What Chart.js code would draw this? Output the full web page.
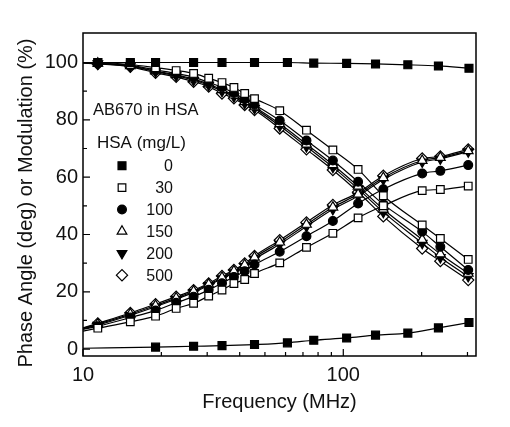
<!DOCTYPE html>
<html>
<head>
<meta charset="utf-8">
<script src="https://cdn.jsdelivr.net/npm/chart.js@4.4.1/dist/chart.umd.min.js"></script>
<style>
html, body { margin: 0; padding: 0; background: #fff; }
</style>
</head>
<body>
<canvas id="chart" width="510" height="427"></canvas>
<script>
// frequencies (MHz)
var freqHSA = [11.4, 15.2, 19, 22.8, 26.6, 30.4, 34.2, 38, 41.8, 45.6, 57, 72.2, 91.2, 114, 142.5, 201, 236, 302];
var freqZero = [11.4, 15.2, 19, 26.6, 34.2, 45.6, 61, 77, 103, 133, 177, 232, 304];
var freqZeroPhase = [19, 26.6, 34.2, 45.6, 61, 77, 103, 133, 177, 232, 304];

// HSA 0 mg/L
var mod0 = [100, 100, 100, 100, 100, 100, 100, 99.8, 99.7, 99.5, 99.2, 98.8, 98.0];
var phase0 = [0.7, 1.0, 1.2, 1.6, 2.2, 3.1, 3.9, 4.9, 5.6, 7.4, 9.3];

// phase angle (deg)
var phase30 = [7.3, 9.5, 11.5, 14.2, 16.0, 18.5, 20.6, 22.9, 24.3, 26.4, 30.1, 35.5, 40.4, 45.8, 50.0, 55.3, 55.7, 56.9];
var phase100 = [8.0, 11.0, 13.5, 16.2, 18.3, 20.7, 23.0, 25.2, 27.2, 29.5, 34.0, 39.4, 44.7, 50.8, 55.8, 61.3, 62.2, 64.2];
var phase150 = [8.7, 12.2, 15.2, 17.8, 20.2, 22.6, 25.0, 27.2, 29.4, 32.0, 37.3, 43.5, 49.5, 54.0, 59.8, 65.8, 66.8, 69.2];
var phase200 = [8.4, 11.8, 14.8, 17.4, 19.8, 22.2, 24.6, 26.7, 28.9, 31.4, 36.6, 42.8, 48.8, 53.4, 59.2, 65.3, 66.4, 68.9];
var phase500 = [9.0, 12.6, 15.7, 18.3, 20.6, 22.9, 25.5, 27.6, 29.9, 32.5, 38.0, 44.2, 50.3, 54.6, 60.5, 66.5, 67.2, 69.7];

// modulation (%)
var mod30 = [100, 99.3, 98.2, 97.2, 96.2, 94.5, 93.0, 91.3, 89.2, 87.4, 83.2, 76.4, 69.5, 62.7, 53.5, 43.3, 38.6, 31.3];
var mod100 = [99.8, 99.0, 97.4, 96.2, 94.9, 93.1, 91.3, 89.4, 87.2, 85.3, 79.8, 72.8, 65.8, 58.4, 50.5, 41.0, 35.7, 27.6];
var mod150 = [99.7, 98.8, 97.0, 95.7, 94.2, 92.5, 90.5, 88.6, 86.3, 84.5, 78.6, 71.5, 64.3, 56.8, 48.8, 38.2, 33.2, 26.4];
var mod200 = [99.6, 98.7, 96.8, 95.4, 93.8, 92.1, 90.0, 88.1, 85.8, 84.0, 77.9, 70.7, 63.5, 55.9, 47.8, 37.0, 32.0, 25.4];
var mod500 = [99.5, 98.5, 96.4, 95.0, 93.3, 91.6, 89.2, 87.5, 85.2, 83.4, 77.0, 69.7, 62.5, 54.8, 46.3, 35.1, 30.7, 24.1];

// where the fitted curves meet the left axis (10 MHz)
var phaseAt10 = [0.3, 6.3, 6.9, 7.3, 7.1, 7.4];
var modAt10 = [100, 100, 100, 100, 99.9, 99.8];

var hsaLabels = ['0', '30', '100', '150', '200', '500'];
var markerStyles = ['rect', 'rect', 'circle', 'triangle', 'triangle', 'rectRot'];
var markerFilled = [true, false, true, false, true, false];
var markerRotation = [0, 0, 0, 0, 180, 0];
var markerRadius = [5.6, 5.4, 4.4, 5.6, 5.6, 5.6];

var xTicks = [10, 100];
var xMinor = [20, 30, 40, 50, 60, 70, 80, 90, 200, 300];
var yTicks = [0, 20, 40, 60, 80, 100];
var yMinor = [10, 30, 50, 70, 90];

var FONT = "'Liberation Sans', Arial, sans-serif";
var INK = '#111';

function pts(xs, ys, lead) {
  var out = [{ x: 10, y: lead }];
  for (var i = 0; i < xs.length; i++) out.push({ x: xs[i], y: ys[i] });
  return out;
}

function curve(k, data) {
  return {
    data: data,
    showLine: true,
    borderColor: '#000',
    borderWidth: 1.2,
    cubicInterpolationMode: 'monotone',
    pointStyle: markerStyles[k],
    pointRotation: markerRotation[k],
    pointRadius: function(c) { return c.dataIndex === 0 ? 0 : markerRadius[k]; },
    pointBorderWidth: 1.2,
    pointBorderColor: '#000',
    pointBackgroundColor: markerFilled[k] ? '#000' : '#fff'
  };
}

var phases = [phase0, phase30, phase100, phase150, phase200, phase500];
var mods = [mod0, mod30, mod100, mod150, mod200, mod500];
var datasets = [];
for (var k = 0; k < 6; k++) {
  var fx = k === 0 ? freqZero : freqHSA;
  var fp = k === 0 ? freqZeroPhase : freqHSA;
  datasets.push(curve(k, pts(fx, mods[k], modAt10[k])));
  datasets.push(curve(k, pts(fp, phases[k], phaseAt10[k])));
}

var framePlugin = {
  id: 'frame',
  afterDraw: function(chart) {
    var ctx = chart.ctx, a = chart.chartArea;
    var xs = chart.scales.x, ys = chart.scales.y;
    ctx.save();
    ctx.strokeStyle = '#000';
    ctx.lineWidth = 1.5;
    ctx.strokeRect(a.left, a.top, a.right - a.left, a.bottom - a.top);
    ctx.lineWidth = 1.2;
    ctx.beginPath();
    xTicks.forEach(function(v) { var p = xs.getPixelForValue(v); ctx.moveTo(p, a.bottom); ctx.lineTo(p, a.bottom - 7); });
    xMinor.forEach(function(v) { var p = xs.getPixelForValue(v); ctx.moveTo(p, a.bottom); ctx.lineTo(p, a.bottom - 4); });
    yTicks.forEach(function(v) { var p = ys.getPixelForValue(v); ctx.moveTo(a.left, p); ctx.lineTo(a.left + 7, p); });
    yMinor.forEach(function(v) { var p = ys.getPixelForValue(v); ctx.moveTo(a.left, p); ctx.lineTo(a.left + 4, p); });
    ctx.stroke();

    // axis titles
    ctx.fillStyle = INK;
    ctx.font = '20px ' + FONT;
    ctx.textAlign = 'center';
    ctx.textBaseline = 'alphabetic';
    ctx.fillText('Frequency (MHz)', (a.left + a.right) / 2 + 0, 408);
    ctx.translate(31.5, 203);
    ctx.rotate(-Math.PI / 2);
    ctx.fillText('Phase Angle (deg) or Modulation (%)', 0, 0);
    ctx.restore();

    // legend
    ctx.save();
    ctx.fillStyle = INK;
    ctx.textAlign = 'left';
    ctx.font = '16.5px ' + FONT;
    ctx.fillText('AB670 in HSA', 93, 115);
    ctx.font = '17px ' + FONT;
    ctx.fillText('HSA (mg/L)', 97, 148);
    ctx.font = '16px ' + FONT;
    ctx.textAlign = 'right';
    ctx.textBaseline = 'middle';
    for (var i = 0; i < hsaLabels.length; i++) {
      var y = 165.7 + i * 21.9;
      ctx.fillStyle = INK;
      ctx.fillText(hsaLabels[i], 173, y + 1);
      ctx.strokeStyle = '#000';
      ctx.lineWidth = 1.2;
      ctx.fillStyle = markerFilled[i] ? '#000' : '#fff';
      Chart.helpers.drawPoint(ctx, {
        pointStyle: markerStyles[i], rotation: markerRotation[i],
        radius: markerRadius[i], borderWidth: 1.2
      }, 122, y);
    }
    ctx.restore();
  }
};

new Chart(document.getElementById('chart'), {
  type: 'scatter',
  data: { datasets: datasets },
  options: {
    responsive: false,
    animation: false,
    layout: { padding: { left: 0, right: 34, top: 33, bottom: 0 } },
    plugins: { legend: { display: false }, tooltip: { enabled: false } },
    scales: {
      x: {
        type: 'logarithmic', min: 10, max: 323.5,
        grid: { display: false, drawTicks: false },
        border: { display: false },
        afterBuildTicks: function(s) { s.ticks = xTicks.map(function(v) { return { value: v }; }); },
        afterFit: function(s) { s.height = 71; },
        ticks: {
          autoSkip: false, maxRotation: 0, padding: 7, color: INK,
          font: { family: FONT, size: 20 },
          callback: function(v) { return String(v); }
        }
      },
      y: {
        min: -2.4, max: 110.3,
        grid: { display: false, drawTicks: false },
        border: { display: false },
        afterBuildTicks: function(s) { s.ticks = yTicks.map(function(v) { return { value: v }; }); },
        afterFit: function(s) { s.width = 83; },
        ticks: {
          padding: 5, color: INK,
          font: { family: FONT, size: 20 },
          callback: function(v) { return String(v); }
        }
      }
    }
  },
  plugins: [framePlugin]
});
</script>
</body>
</html>
